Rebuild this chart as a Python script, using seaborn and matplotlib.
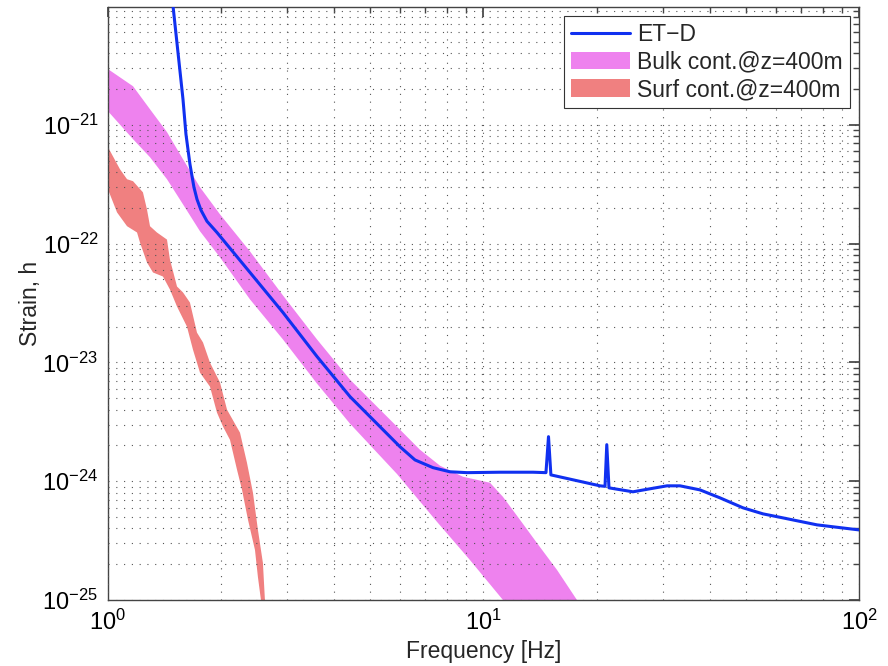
import numpy as np
import seaborn as sns
import matplotlib.pyplot as plt
from matplotlib.ticker import LogLocator, NullFormatter

# ET-D sensitivity curve
etd_f = [1.472, 1.490, 1.584, 1.613, 1.653, 1.694, 1.726, 1.769, 1.835, 1.951, 2.389,
         2.924, 3.603, 4.411, 5.993, 6.57, 7.338, 8.14, 9.037, 11.07, 13.55, 14.67, 14.90,
         15.12, 20.43, 21.07, 21.30, 21.59, 25.01, 27.76, 30.82, 33.37, 37.72, 42.65, 49.10,
         55.5, 62.76, 77.31, 100.0]
etd_h = [1.45e-20, 1.0e-20, 1.64e-21, 8.34e-22, 4.66e-22, 2.98e-22, 2.36e-22, 1.91e-22,
         1.54e-22, 1.24e-22, 5.71e-23, 2.63e-23, 1.12e-23, 5.15e-24, 1.95e-24, 1.51e-24,
         1.30e-24, 1.20e-24, 1.18e-24, 1.19e-24, 1.19e-24, 1.18e-24, 2.37e-24, 1.13e-24,
         9.14e-25, 9.05e-25, 2.03e-24, 8.79e-25, 8.14e-25, 8.63e-25, 9.14e-25, 9.14e-25,
         8.45e-25, 7.24e-25, 5.97e-25, 5.31e-25, 4.91e-25, 4.29e-25, 3.89e-25]

# bulk contribution band, upper and lower edges
bulk_up_f = [1.000, 1.166, 1.294, 1.436, 1.584, 1.758, 1.988, 2.389, 2.924, 3.603, 4.411,
             5.884, 6.773, 7.660, 8.818, 10.41, 11.27, 12.51, 13.88, 15.70, 17.74, 18.64]
bulk_up_h = [2.94e-21, 2.11e-21, 1.35e-21, 8.67e-22, 5.13e-22, 2.98e-22, 1.76e-22, 8.59e-23,
             3.66e-23, 1.56e-23, 7.16e-24, 2.88e-24, 1.84e-24, 1.35e-24, 1.09e-24, 9.70e-25,
             7.38e-25, 4.73e-25, 3.02e-25, 1.79e-25, 1.0e-25, 7.92e-26]
bulk_lo_f = [1.000, 1.166, 1.294, 1.436, 1.584, 1.758, 1.988, 2.389, 2.924, 3.603, 4.411,
             5.884, 7.520, 9.205, 11.27, 11.77]
bulk_lo_h = [1.30e-21, 7.57e-22, 5.33e-22, 3.48e-22, 2.14e-22, 1.27e-22, 7.65e-23, 3.39e-23,
             1.56e-23, 6.63e-24, 3.05e-24, 1.15e-24, 4.55e-25, 2.17e-25, 1.0e-25, 8.24e-26]

# surface contribution band, upper (right) and lower (left) edges
surf_up_f = [1.000, 1.076, 1.124, 1.166, 1.239, 1.270, 1.294, 1.350, 1.436, 1.462, 1.527,
             1.584, 1.653, 1.726, 1.791, 1.869, 1.988, 2.075, 2.247, 2.345, 2.433, 2.508,
             2.586, 2.618, 2.634]
surf_up_h = [6.48e-22, 4.23e-22, 3.48e-22, 3.35e-22, 2.70e-22, 1.94e-22, 1.40e-22, 1.24e-22,
             1.08e-22, 7.36e-23, 4.35e-23, 3.88e-23, 3.19e-23, 1.78e-23, 1.47e-23, 9.96e-24,
             6.76e-24, 4.00e-24, 2.56e-24, 1.43e-24, 7.98e-25, 3.89e-25, 2.05e-25, 1.0e-25,
             6.78e-26]
surf_lo_f = [1.000, 1.057, 1.124, 1.195, 1.217, 1.270, 1.318, 1.401, 1.462, 1.527, 1.623,
             1.684, 1.758, 1.869, 1.951, 2.025, 2.113, 2.206, 2.275, 2.360, 2.463, 2.508,
             2.555, 2.570]
surf_lo_h = [2.86e-22, 1.83e-22, 1.40e-22, 1.24e-22, 1.02e-22, 6.94e-23, 5.71e-23, 5.28e-23,
             4.11e-23, 2.95e-23, 2.00e-23, 1.28e-23, 8.20e-24, 6.25e-24, 3.78e-24, 2.88e-24,
             2.23e-24, 1.25e-24, 8.45e-25, 4.73e-25, 2.64e-25, 1.56e-25, 1.0e-25, 6.78e-26]

x_ticks = [1, 10, 100]
y_ticks = [1e-25, 1e-24, 1e-23, 1e-22, 1e-21]

sns.set_theme(style="white")
plt.rcParams['font.family'] = ['Liberation Sans', 'DejaVu Sans']
plt.rcParams['mathtext.fontset'] = 'custom'
plt.rcParams['mathtext.rm'] = 'Liberation Sans'

fig = plt.figure(figsize=(8.88, 6.66), dpi=100)
ax = fig.add_axes([0.1216, 0.0991, 0.8457, 0.8904])
ax.set_xscale('log')
ax.set_yscale('log')

# bands
ax.fill(bulk_up_f + bulk_lo_f[::-1], bulk_up_h + bulk_lo_h[::-1],
        color='#EE82EE', lw=0, label='Bulk cont.@z=400m', zorder=1)
ax.fill(surf_up_f + surf_lo_f[::-1], surf_up_h + surf_lo_h[::-1],
        color='#F08080', lw=0, label='Surf cont.@z=400m', zorder=1)

# ET-D curve
sns.lineplot(x=etd_f, y=etd_h, ax=ax, color='#1030F0', lw=2.2, sort=False,
             label='ET\u2212D', zorder=3)

ax.set_xlim(1, 100)
ax.set_ylim(1e-25, 9.8e-21)

ax.set_xticks(x_ticks)
ax.set_yticks(y_ticks)
ax.xaxis.set_minor_locator(LogLocator(base=10, subs=np.arange(2, 10), numticks=20))
ax.yaxis.set_minor_locator(LogLocator(base=10, subs=np.arange(2, 10), numticks=20))
ax.xaxis.set_minor_formatter(NullFormatter())
ax.yaxis.set_minor_formatter(NullFormatter())

ax.grid(True, which='both', ls=(0, (1, 6)), color='#555555', lw=0.8)
ax.set_axisbelow(False)

ax.tick_params(which='both', direction='in', top=True, right=True, colors='#444444',
               labelcolor='black', labelsize=17)
ax.tick_params(which='major', length=7, pad=7)
ax.tick_params(which='minor', length=4)
for s in ax.spines.values():
    s.set_color('#444444')
    s.set_linewidth(1.0)

ax.set_xlabel('Frequency [Hz]', fontsize=16.5, labelpad=4)
ax.set_ylabel('Strain, h', fontsize=16.5, labelpad=0)

h, l = ax.get_legend_handles_labels()
order = [l.index('ET\u2212D'), l.index('Bulk cont.@z=400m'), l.index('Surf cont.@z=400m')]
leg = ax.legend([h[i] for i in order], [l[i] for i in order], loc='upper right',
                fontsize=16.5, fancybox=False, framealpha=1, edgecolor='#333333',
                handlelength=2.6, handleheight=0.8, borderaxespad=0.4,
                labelspacing=0.2, handletextpad=0.3, borderpad=0.3)
leg.get_frame().set_linewidth(0.8)

fig.savefig('out.png', dpi=100)
